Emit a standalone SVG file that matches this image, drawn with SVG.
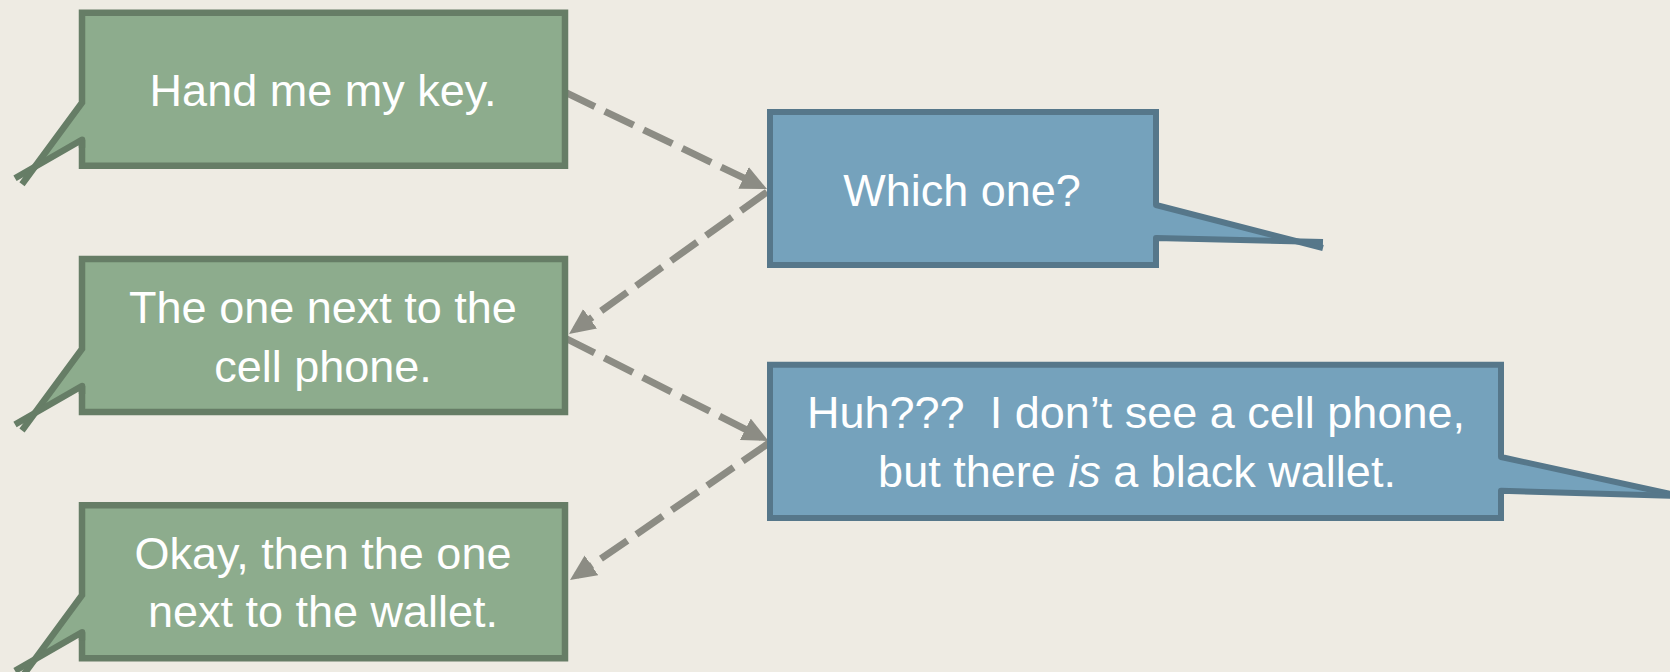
<svg xmlns="http://www.w3.org/2000/svg" width="1670" height="672" viewBox="0 0 1670 672">
<style>
.gfill{fill:#8DAC8D;stroke:none}
.gline{fill:none;stroke:#667D66;stroke-width:6.5;stroke-linejoin:miter}
.gtail{fill:none;stroke:#667D66;stroke-width:6.5;stroke-linejoin:round}
.bfill{fill:#75A2BC;stroke:none}
.bline{fill:none;stroke:#56778A;stroke-width:6;stroke-linejoin:miter}
.btail{fill:none;stroke:#56778A;stroke-width:6;stroke-linejoin:round}
.t{font-family:"Liberation Sans",Arial,sans-serif;font-size:45px;fill:#FFFFFF;text-anchor:middle}
.c{fill:none;stroke:#8C8C84;stroke-width:7;stroke-dasharray:32 11;marker-end:url(#ah)}
</style>
<defs>
<marker id="ah" markerUnits="userSpaceOnUse" markerWidth="26" markerHeight="24" refX="18" refY="12" orient="auto" viewBox="0 0 26 24">
<path d="M0,0 L26,12 L0,24 Z" fill="#8C8C84"/>
</marker>
</defs>
<rect width="1670" height="672" fill="#EEEBE3"/>

<g id="connectors">
<path class="c" d="M566,92.7 L759.8,185.6"/>
<path class="c" d="M767,192 L575.5,329.3"/>
<path class="c" d="M566,338.5 L761.4,437.4"/>
<path class="c" d="M769,443 L576.6,575.5"/>
</g>

<g id="node-hand" transform="translate(0,12.7)">
<path class="gfill" d="M82,0 H565 V153 H82 V127 L32.5,155 L82,90 Z"/>
<path class="gline" d="M22,171.5 L82,90 V0 H565 V153 H82 V127"/>
<path class="gtail" d="M82,135 V127 L15,165.5"/>
<text class="t" x="323" y="93.3">Hand me my key.</text>
</g>

<g id="node-cellphone" transform="translate(0,259)">
<path class="gfill" d="M82,0 H565 V153 H82 V127 L32.5,155 L82,90 Z"/>
<path class="gline" d="M22,171.5 L82,90 V0 H565 V153 H82 V127"/>
<path class="gtail" d="M82,135 V127 L15,165.5"/>
<text class="t" x="323" y="63.7">The one next to the</text>
<text class="t" x="323" y="122.7">cell phone.</text>
</g>

<g id="node-wallet" transform="translate(0,505.3)">
<path class="gfill" d="M82,0 H565 V153 H82 V127 L32.5,155 L82,90 Z"/>
<path class="gline" d="M22,171.5 L82,90 V0 H565 V153 H82 V127"/>
<path class="gtail" d="M82,135 V127 L15,165.5"/>
<text class="t" x="323" y="64">Okay, then the one</text>
<text class="t" x="323" y="121.4">next to the wallet.</text>
</g>

<g id="node-whichone">
<path class="bfill" d="M770,112 H1156 V205 L1297.6,241.4 L1156,238 V265 H770 Z"/>
<path class="bline" d="M1156,205 V112 H770 V265 H1156 V238"/>
<path class="btail" d="M1156,195 V205 L1323,248"/>
<path class="btail" d="M1156,248 V238 L1323,242"/>
<text class="t" x="962" y="206">Which one?</text>
</g>

<g id="node-huh">
<path class="bfill" d="M770,364.7 H1501 V457 L1680,496 L1501,490.7 V518 H770 Z"/>
<path class="bline" d="M1501,457 V364.7 H770 V518 H1501 V490.7"/>
<path class="btail" d="M1501,447 V457 L1700,500.4"/>
<path class="btail" d="M1501,500 V490.7 L1700,496.7"/>
<text class="t" x="1136" y="428.3" xml:space="preserve">Huh???  I don’t see a cell phone,</text>
<text class="t" x="1137" y="486.7">but there <tspan font-style="italic">is</tspan> a black wallet.</text>
</g>
</svg>
